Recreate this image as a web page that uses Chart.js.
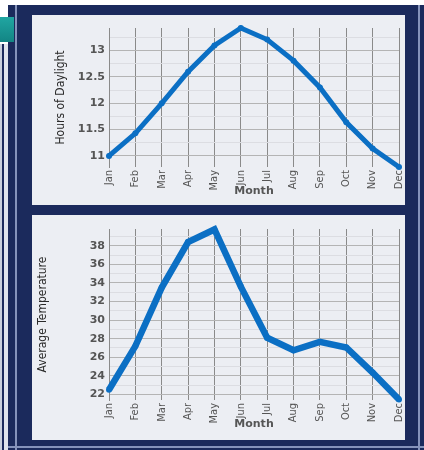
<!DOCTYPE html>
<html>
<head>
<meta charset="utf-8">
<script src="https://cdn.jsdelivr.net/npm/chart.js@4.4.1/dist/chart.umd.min.js"></script>
<style>
  html, body { margin: 0; padding: 0; background: #ffffff; }
  body { width: 424px; height: 450px; position: relative; overflow: hidden; }
  .abs { position: absolute; }
  .navy { background: #1b2a5c; }
  .stripe { background: #8593bb; }
  .panel { background: #eceef3; }
  canvas { display: block; }
</style>
</head>
<body>
<div class="abs" style="left:0;top:44px;width:2px;height:406px;background:#c9cfdc;"></div>
<div class="abs navy" style="left:2px;top:44px;width:2px;height:406px;"></div>
<div class="abs" style="left:4px;top:44px;width:4px;height:406px;background:#dfe3ec;"></div>
<div class="abs navy" style="left:8px;top:5px;width:416px;height:445px;"></div>
<div class="abs stripe" style="left:15px;top:5px;width:2px;height:445px;"></div>
<div class="abs stripe" style="left:418px;top:5px;width:2px;height:445px;"></div>
<div class="abs stripe" style="left:8px;top:446px;width:416px;height:2px;"></div>
<div class="abs" style="left:0;top:17px;width:14px;height:25px;background:linear-gradient(#20a6a2,#138584);"></div>
<div class="abs panel" style="left:32px;top:15px;width:373px;height:190px;">
  <canvas id="daylight" width="373" height="190"></canvas>
</div>
<div class="abs panel" style="left:32px;top:215px;width:373px;height:225px;">
  <canvas id="temperature" width="373" height="225"></canvas>
</div>
<script>
// data
const months = ['Jan', 'Feb', 'Mar', 'Apr', 'May', 'Jun', 'Jul', 'Aug', 'Sep', 'Oct', 'Nov', 'Dec'];
const daylightHours = [11.0, 11.43, 12.0, 12.6, 13.1, 13.43, 13.21, 12.81, 12.3, 11.64, 11.14, 10.79];
const avgTemperature = [22.5, 27.2, 33.5, 38.4, 39.75, 33.6, 28.1, 26.75, 27.65, 27.05, 24.35, 21.45];

const lineBlue = '#0b6fc4';
const tickGray = '#555555';
const labelFont = "'Liberation Sans Narrow', 'DejaVu Sans Condensed', 'Liberation Sans', sans-serif";
const numberFont = "'DejaVu Sans', 'Verdana', sans-serif";

function isMajor(value, step) {
    const r = value / step;
    return Math.abs(r - Math.round(r)) < 1e-6;
}

/**
 * Build one of the two line charts
 */
function makeChart(canvas, values, opts) {
    return new Chart(canvas, {
        type: 'line',
        data: {
            labels: months,
            datasets: [{
                data: values,
                borderColor: lineBlue,
                backgroundColor: lineBlue,
                borderWidth: opts.lineWidth,
                pointRadius: 3,
                pointBorderWidth: 0,
                tension: 0,
                clip: false
            }]
        },
        options: {
            responsive: false,
            animation: false,
            events: [],
            layout: { padding: { left: opts.padLeft, right: 6, top: opts.padTop, bottom: opts.padBottom } },
            plugins: { legend: { display: false }, tooltip: { enabled: false } },
            scales: {
                x: {
                    offset: false,
                    border: { display: false },
                    grid: { color: '#8a8a8a', lineWidth: 1, drawTicks: false },
                    ticks: {
                        color: tickGray,
                        font: { family: labelFont, size: 11 },
                        minRotation: 90,
                        maxRotation: 90,
                        padding: 3,
                        autoSkip: false
                    },
                    title: {
                        display: true,
                        text: 'Month',
                        color: tickGray,
                        font: { family: numberFont, size: 11, weight: 'bold' },
                        padding: 0
                    },
                    afterFit: scale => {
                        scale.height = opts.xHeight;
                        scale.paddingLeft = 0;
                        scale.paddingRight = 0;
                    }
                },
                y: {
                    min: opts.min,
                    max: opts.max,
                    border: { display: true, color: '#8a8a8a' },
                    grid: {
                        drawTicks: false,
                        color: ctx => isMajor(ctx.tick.value, opts.major) ? '#b4b4b4' : '#dcdde2'
                    },
                    ticks: {
                        stepSize: opts.minor,
                        includeBounds: false,
                        autoSkip: false,
                        padding: 4,
                        color: tickGray,
                        font: { family: numberFont, size: 11, weight: 'bold' },
                        callback: v => isMajor(v, opts.major) ? String(Math.round(v * 100) / 100) : ''
                    },
                    title: {
                        display: true,
                        text: opts.title,
                        color: '#2a2a2a',
                        font: { family: labelFont, size: 12 },
                        padding: 0
                    },
                    afterFit: scale => { scale.width = opts.yWidth; }
                }
            }
        }
    });
}

makeChart(document.getElementById('daylight'), daylightHours, {
    title: 'Hours of Daylight',
    min: 10.79, max: 13.43, minor: 0.25, major: 0.5,
    lineWidth: 5,
    padLeft: 22, yWidth: 55,
    padTop: 13, padBottom: 7, xHeight: 31
});

makeChart(document.getElementById('temperature'), avgTemperature, {
    title: 'Average Temperature',
    min: 21.4, max: 39.8, minor: 1, major: 2,
    lineWidth: 6.5,
    padLeft: 4, yWidth: 73,
    padTop: 14, padBottom: 9, xHeight: 31
});
</script>
</body>
</html>
